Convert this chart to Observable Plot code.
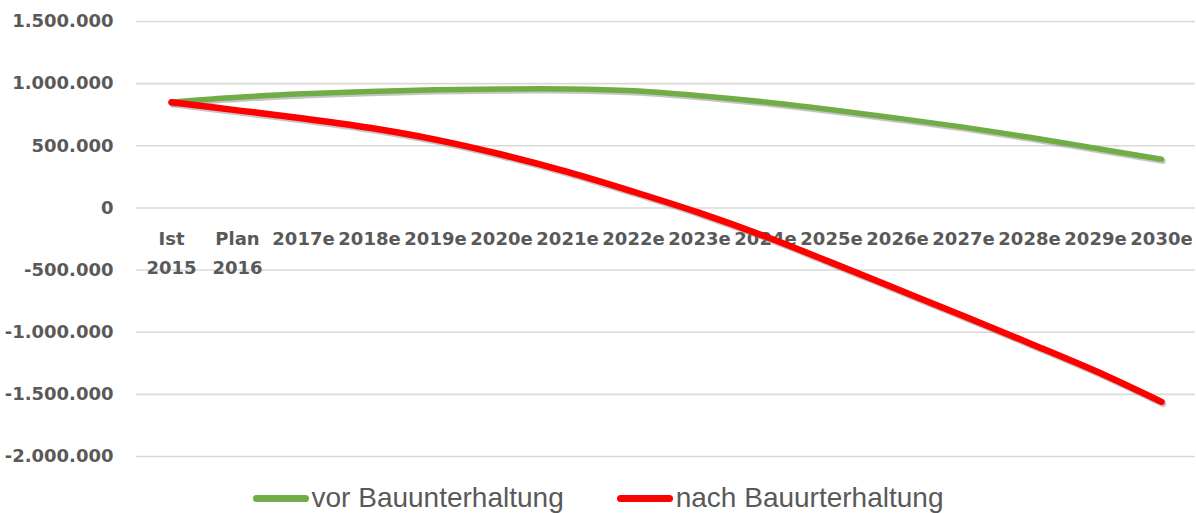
<!DOCTYPE html>
<html>
<head>
<meta charset="utf-8">
<script src="https://cdn.jsdelivr.net/npm/d3@7"></script>
<script src="https://cdn.jsdelivr.net/npm/@observablehq/plot@0.6"></script>
<style>
  html, body { margin: 0; padding: 0; background: #fff; }
  #wrap { position: relative; width: 1196px; height: 513px; overflow: hidden; }
  #legend { position: absolute; left: 0; top: 470px; width: 1196px; height: 43px;
    display: flex; justify-content: center; align-items: center; gap: 53px;
    font-family: "Liberation Sans", Arial, sans-serif; font-size: 28px; color: #595959; }
  .item { display: flex; align-items: center; gap: 3px; margin-top: 13px; }
  .sw { width: 56px; height: 7px; border-radius: 4px; }
</style>
</head>
<body>
<div id="wrap">
  <div id="chart"></div>
  <div id="legend"></div>
</div>
<script>
const categories = ["Ist\n2015", "Plan\n2016", "2017e", "2018e", "2019e", "2020e", "2021e", "2022e",
  "2023e", "2024e", "2025e", "2026e", "2027e", "2028e", "2029e", "2030e"];
const vorBauunterhaltung = [850000, 890000, 918000, 937000, 950000, 957000, 957000, 942000,
  903000, 852000, 790000, 722000, 650000, 568000, 480000, 392000];
const nachBauunterhaltung = [850000, 785000, 720000, 645000, 550000, 430000, 290000, 130000,
  -40000, -230000, -440000, -655000, -870000, -1088000, -1312000, -1560000];
const yTicks = [-2000000, -1500000, -1000000, -500000, 0, 500000, 1000000, 1500000];
const seriesNames = ["vor Bauunterhaltung", "nach Bauurterhaltung"];
const seriesColors = ["#70AD47", "#FF0000"];

const de = d3.formatLocale({decimal: ",", thousands: ".", grouping: [3], currency: ["", " €"], minus: "-"});
const fmt = de.format(",d");

const vorRows = categories.map((c, i) => ({cat: c, value: vorBauunterhaltung[i]}));
const nachRows = categories.map((c, i) => ({cat: c, value: nachBauunterhaltung[i]}));

const chart = Plot.plot({
  width: 1196,
  height: 470,
  marginLeft: 136,
  marginRight: 1,
  marginTop: 21,
  marginBottom: 14,
  style: {background: "#fff", fontFamily: "DejaVu Sans, sans-serif", fontSize: "18px", color: "#595959"},
  x: {type: "point", domain: categories, padding: 0.5, axis: null},
  y: {domain: [-2000000, 1500000], axis: null},
  marks: [
    Plot.ruleY(yTicks, {stroke: "#d9d9d9", strokeWidth: 1.6}),
    Plot.axisY(yTicks, {tickSize: 0, tickPadding: 23, tickFormat: fmt, label: null, fill: "#595959", fontWeight: "bold", fontSize: 18}),
    Plot.text(categories, {x: d => d, y: () => 0, text: d => d, dy: 17, lineAnchor: "top", lineHeight: 1.6,
      fill: "#595959", fontWeight: "bold", fontSize: 18}),
    Plot.line(vorRows, {x: "cat", y: "value", curve: "catmull-rom", stroke: "#7f7f7f", strokeOpacity: 0.45, strokeWidth: 5.5, dx: 1.5, dy: 2, strokeLinecap: "round"}),
    Plot.line(vorRows, {x: "cat", y: "value", curve: "catmull-rom", stroke: seriesColors[0], strokeWidth: 5.5, strokeLinecap: "round"}),
    Plot.line(nachRows, {x: "cat", y: "value", curve: "catmull-rom", stroke: "#7f7f7f", strokeOpacity: 0.45, strokeWidth: 6.5, dx: 1.5, dy: 2, strokeLinecap: "round"}),
    Plot.line(nachRows, {x: "cat", y: "value", curve: "catmull-rom", stroke: seriesColors[1], strokeWidth: 6.5, strokeLinecap: "round"})
  ]
});
document.getElementById("chart").appendChild(chart);

const legend = document.getElementById("legend");
seriesNames.forEach((name, i) => {
  const item = document.createElement("div");
  item.className = "item";
  const sw = document.createElement("span");
  sw.className = "sw";
  sw.style.background = seriesColors[i];
  const label = document.createElement("span");
  label.textContent = name;
  item.appendChild(sw);
  item.appendChild(label);
  legend.appendChild(item);
});
</script>
</body>
</html>
